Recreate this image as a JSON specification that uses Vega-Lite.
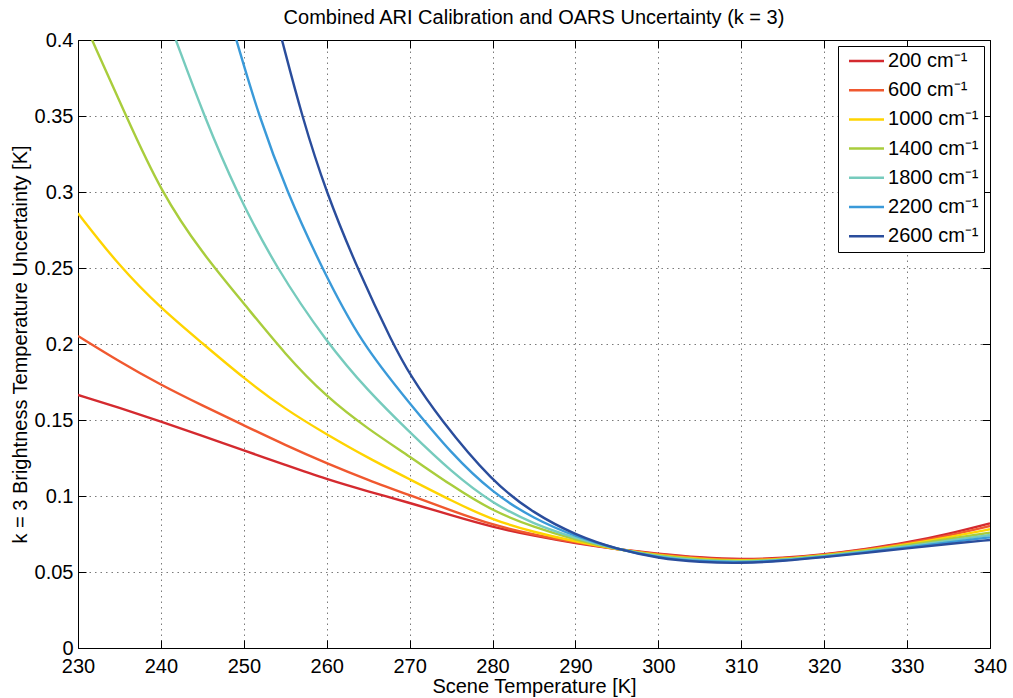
{
  "$schema": "https://vega.github.io/schema/vega-lite/v6.json",
  "width": 912,
  "height": 608,
  "autosize": {"type": "none"},
  "padding": {"left": 78, "top": 40, "right": 23, "bottom": 50},
  "background": "white",
  "config": {
    "font": "Liberation Sans",
    "view": {"stroke": null},
    "axis": {
      "domainColor": "black",
      "domainWidth": 1,
      "tickColor": "black",
      "tickWidth": 1,
      "tickSize": -8,
      "labelFont": "Liberation Sans",
      "labelFontSize": 20,
      "labelColor": "black",
      "labelFlush": false,
      "labelOverlap": false,
      "titleFont": "Liberation Sans",
      "titleFontSize": 20,
      "titleFontWeight": "normal",
      "titleColor": "black",
      "gridColor": "#7a7a7a",
      "gridDash": [1.5, 4],
      "gridWidth": 1,
      "gridOpacity": 1
    }
  },
  "title": {
    "text": "Combined ARI Calibration and OARS Uncertainty (k = 3)",
    "font": "Liberation Sans",
    "fontSize": 20,
    "fontWeight": "normal",
    "color": "black",
    "anchor": "middle",
    "frame": "group",
    "offset": 2
  },
  "data": {
    "values": [
      {"band": "200 cm⁻¹", "T": 230, "v": 0.1665}, {"band": "200 cm⁻¹", "T": 235, "v": 0.158}, {"band": "200 cm⁻¹", "T": 240, "v": 0.149}, {"band": "200 cm⁻¹", "T": 245, "v": 0.1395}, {"band": "200 cm⁻¹", "T": 250, "v": 0.130}, {"band": "200 cm⁻¹", "T": 255, "v": 0.1205}, {"band": "200 cm⁻¹", "T": 260, "v": 0.111}, {"band": "200 cm⁻¹", "T": 265, "v": 0.103}, {"band": "200 cm⁻¹", "T": 270, "v": 0.0955}, {"band": "200 cm⁻¹", "T": 275, "v": 0.0873}, {"band": "200 cm⁻¹", "T": 280, "v": 0.0795}, {"band": "200 cm⁻¹", "T": 285, "v": 0.0738}, {"band": "200 cm⁻¹", "T": 290, "v": 0.0689}, {"band": "200 cm⁻¹", "T": 295, "v": 0.0650}, {"band": "200 cm⁻¹", "T": 300, "v": 0.0620}, {"band": "200 cm⁻¹", "T": 305, "v": 0.0595}, {"band": "200 cm⁻¹", "T": 310, "v": 0.0581}, {"band": "200 cm⁻¹", "T": 315, "v": 0.0592}, {"band": "200 cm⁻¹", "T": 320, "v": 0.0616}, {"band": "200 cm⁻¹", "T": 325, "v": 0.0651}, {"band": "200 cm⁻¹", "T": 330, "v": 0.0693}, {"band": "200 cm⁻¹", "T": 335, "v": 0.0750}, {"band": "200 cm⁻¹", "T": 340, "v": 0.0820},

      {"band": "600 cm⁻¹", "T": 230, "v": 0.2053}, {"band": "600 cm⁻¹", "T": 235, "v": 0.1884}, {"band": "600 cm⁻¹", "T": 240, "v": 0.1730}, {"band": "600 cm⁻¹", "T": 245, "v": 0.1595}, {"band": "600 cm⁻¹", "T": 250, "v": 0.1465}, {"band": "600 cm⁻¹", "T": 255, "v": 0.1335}, {"band": "600 cm⁻¹", "T": 260, "v": 0.1215}, {"band": "600 cm⁻¹", "T": 265, "v": 0.1105}, {"band": "600 cm⁻¹", "T": 270, "v": 0.1005}, {"band": "600 cm⁻¹", "T": 275, "v": 0.0905}, {"band": "600 cm⁻¹", "T": 280, "v": 0.0809}, {"band": "600 cm⁻¹", "T": 285, "v": 0.0745}, {"band": "600 cm⁻¹", "T": 290, "v": 0.0693}, {"band": "600 cm⁻¹", "T": 295, "v": 0.0650}, {"band": "600 cm⁻¹", "T": 300, "v": 0.0615}, {"band": "600 cm⁻¹", "T": 305, "v": 0.0590}, {"band": "600 cm⁻¹", "T": 310, "v": 0.0577}, {"band": "600 cm⁻¹", "T": 315, "v": 0.0589}, {"band": "600 cm⁻¹", "T": 320, "v": 0.0613}, {"band": "600 cm⁻¹", "T": 325, "v": 0.0647}, {"band": "600 cm⁻¹", "T": 330, "v": 0.0687}, {"band": "600 cm⁻¹", "T": 335, "v": 0.0739}, {"band": "600 cm⁻¹", "T": 340, "v": 0.0803},

      {"band": "1000 cm⁻¹", "T": 230, "v": 0.286}, {"band": "1000 cm⁻¹", "T": 235, "v": 0.251}, {"band": "1000 cm⁻¹", "T": 240, "v": 0.2235}, {"band": "1000 cm⁻¹", "T": 245, "v": 0.2005}, {"band": "1000 cm⁻¹", "T": 250, "v": 0.1774}, {"band": "1000 cm⁻¹", "T": 255, "v": 0.1570}, {"band": "1000 cm⁻¹", "T": 260, "v": 0.1405}, {"band": "1000 cm⁻¹", "T": 265, "v": 0.1250}, {"band": "1000 cm⁻¹", "T": 270, "v": 0.1110}, {"band": "1000 cm⁻¹", "T": 275, "v": 0.0970}, {"band": "1000 cm⁻¹", "T": 280, "v": 0.0842}, {"band": "1000 cm⁻¹", "T": 285, "v": 0.0762}, {"band": "1000 cm⁻¹", "T": 290, "v": 0.0700}, {"band": "1000 cm⁻¹", "T": 295, "v": 0.0650}, {"band": "1000 cm⁻¹", "T": 300, "v": 0.0610}, {"band": "1000 cm⁻¹", "T": 305, "v": 0.0585}, {"band": "1000 cm⁻¹", "T": 310, "v": 0.0573}, {"band": "1000 cm⁻¹", "T": 315, "v": 0.0585}, {"band": "1000 cm⁻¹", "T": 320, "v": 0.0610}, {"band": "1000 cm⁻¹", "T": 325, "v": 0.0643}, {"band": "1000 cm⁻¹", "T": 330, "v": 0.0681}, {"band": "1000 cm⁻¹", "T": 335, "v": 0.0728}, {"band": "1000 cm⁻¹", "T": 340, "v": 0.0781},

      {"band": "1400 cm⁻¹", "T": 231.7, "v": 0.400}, {"band": "1400 cm⁻¹", "T": 235.8, "v": 0.350}, {"band": "1400 cm⁻¹", "T": 240, "v": 0.300}, {"band": "1400 cm⁻¹", "T": 245, "v": 0.2595}, {"band": "1400 cm⁻¹", "T": 250, "v": 0.2268}, {"band": "1400 cm⁻¹", "T": 255, "v": 0.1930}, {"band": "1400 cm⁻¹", "T": 260, "v": 0.1650}, {"band": "1400 cm⁻¹", "T": 265, "v": 0.1440}, {"band": "1400 cm⁻¹", "T": 270, "v": 0.1260}, {"band": "1400 cm⁻¹", "T": 275, "v": 0.1070}, {"band": "1400 cm⁻¹", "T": 280, "v": 0.0900}, {"band": "1400 cm⁻¹", "T": 285, "v": 0.0795}, {"band": "1400 cm⁻¹", "T": 290, "v": 0.0712}, {"band": "1400 cm⁻¹", "T": 295, "v": 0.0650}, {"band": "1400 cm⁻¹", "T": 300, "v": 0.0605}, {"band": "1400 cm⁻¹", "T": 305, "v": 0.0580}, {"band": "1400 cm⁻¹", "T": 310, "v": 0.0569}, {"band": "1400 cm⁻¹", "T": 315, "v": 0.0582}, {"band": "1400 cm⁻¹", "T": 320, "v": 0.0607}, {"band": "1400 cm⁻¹", "T": 325, "v": 0.0639}, {"band": "1400 cm⁻¹", "T": 330, "v": 0.0675}, {"band": "1400 cm⁻¹", "T": 335, "v": 0.0717}, {"band": "1400 cm⁻¹", "T": 340, "v": 0.0759},

      {"band": "1800 cm⁻¹", "T": 241.8, "v": 0.400}, {"band": "1800 cm⁻¹", "T": 245.2, "v": 0.350}, {"band": "1800 cm⁻¹", "T": 249.1, "v": 0.300}, {"band": "1800 cm⁻¹", "T": 253.9, "v": 0.250}, {"band": "1800 cm⁻¹", "T": 260, "v": 0.2010}, {"band": "1800 cm⁻¹", "T": 265, "v": 0.1690}, {"band": "1800 cm⁻¹", "T": 270, "v": 0.1420}, {"band": "1800 cm⁻¹", "T": 275, "v": 0.1160}, {"band": "1800 cm⁻¹", "T": 280, "v": 0.0950}, {"band": "1800 cm⁻¹", "T": 285, "v": 0.0815}, {"band": "1800 cm⁻¹", "T": 290, "v": 0.0722}, {"band": "1800 cm⁻¹", "T": 295, "v": 0.0650}, {"band": "1800 cm⁻¹", "T": 300, "v": 0.0600}, {"band": "1800 cm⁻¹", "T": 305, "v": 0.0574}, {"band": "1800 cm⁻¹", "T": 310, "v": 0.0565}, {"band": "1800 cm⁻¹", "T": 315, "v": 0.0579}, {"band": "1800 cm⁻¹", "T": 320, "v": 0.0603}, {"band": "1800 cm⁻¹", "T": 325, "v": 0.0634}, {"band": "1800 cm⁻¹", "T": 330, "v": 0.0668}, {"band": "1800 cm⁻¹", "T": 335, "v": 0.0706}, {"band": "1800 cm⁻¹", "T": 340, "v": 0.0743},

      {"band": "2200 cm⁻¹", "T": 249.1, "v": 0.400}, {"band": "2200 cm⁻¹", "T": 251.8, "v": 0.350}, {"band": "2200 cm⁻¹", "T": 255.2, "v": 0.300}, {"band": "2200 cm⁻¹", "T": 259.4, "v": 0.250}, {"band": "2200 cm⁻¹", "T": 264.2, "v": 0.200}, {"band": "2200 cm⁻¹", "T": 270, "v": 0.161}, {"band": "2200 cm⁻¹", "T": 275, "v": 0.128}, {"band": "2200 cm⁻¹", "T": 280, "v": 0.102}, {"band": "2200 cm⁻¹", "T": 285, "v": 0.0850}, {"band": "2200 cm⁻¹", "T": 290, "v": 0.0733}, {"band": "2200 cm⁻¹", "T": 295, "v": 0.0650}, {"band": "2200 cm⁻¹", "T": 300, "v": 0.0595}, {"band": "2200 cm⁻¹", "T": 305, "v": 0.0569}, {"band": "2200 cm⁻¹", "T": 310, "v": 0.0561}, {"band": "2200 cm⁻¹", "T": 315, "v": 0.0575}, {"band": "2200 cm⁻¹", "T": 320, "v": 0.0600}, {"band": "2200 cm⁻¹", "T": 325, "v": 0.0630}, {"band": "2200 cm⁻¹", "T": 330, "v": 0.0662}, {"band": "2200 cm⁻¹", "T": 335, "v": 0.0695}, {"band": "2200 cm⁻¹", "T": 340, "v": 0.0728},

      {"band": "2600 cm⁻¹", "T": 254.6, "v": 0.400}, {"band": "2600 cm⁻¹", "T": 257.0, "v": 0.350}, {"band": "2600 cm⁻¹", "T": 259.9, "v": 0.300}, {"band": "2600 cm⁻¹", "T": 263.9, "v": 0.247}, {"band": "2600 cm⁻¹", "T": 268, "v": 0.200}, {"band": "2600 cm⁻¹", "T": 270, "v": 0.180}, {"band": "2600 cm⁻¹", "T": 273.6, "v": 0.151}, {"band": "2600 cm⁻¹", "T": 280, "v": 0.109}, {"band": "2600 cm⁻¹", "T": 285, "v": 0.0885}, {"band": "2600 cm⁻¹", "T": 290, "v": 0.0743}, {"band": "2600 cm⁻¹", "T": 295, "v": 0.0650}, {"band": "2600 cm⁻¹", "T": 300, "v": 0.0590}, {"band": "2600 cm⁻¹", "T": 305, "v": 0.0564}, {"band": "2600 cm⁻¹", "T": 310, "v": 0.0557}, {"band": "2600 cm⁻¹", "T": 315, "v": 0.0572}, {"band": "2600 cm⁻¹", "T": 320, "v": 0.0597}, {"band": "2600 cm⁻¹", "T": 325, "v": 0.0626}, {"band": "2600 cm⁻¹", "T": 330, "v": 0.0656}, {"band": "2600 cm⁻¹", "T": 335, "v": 0.0684}, {"band": "2600 cm⁻¹", "T": 340, "v": 0.0711}
    ]
  },
  "layer": [
    {
      "mark": {"type": "line", "interpolate": "basis", "strokeWidth": 2.4, "clip": true},
      "encoding": {
        "x": {
          "field": "T", "type": "quantitative",
          "scale": {"domain": [230, 340], "nice": false, "zero": false},
          "axis": {
            "orient": "bottom",
            "values": [230, 240, 250, 260, 270, 280, 290, 300, 310, 320, 330, 340],
            "format": "d",
            "grid": true,
            "labelPadding": 16,
            "title": "Scene Temperature [K]",
            "titlePadding": 0
          }
        },
        "y": {
          "field": "v", "type": "quantitative",
          "scale": {"domain": [0, 0.4], "nice": false, "zero": false},
          "axis": {
            "orient": "left",
            "values": [0, 0.05, 0.1, 0.15, 0.2, 0.25, 0.3, 0.35, 0.4],
            "format": "~g",
            "grid": true,
            "labelPadding": 13,
            "title": "k = 3 Brightness Temperature Uncertainty [K]",
            "titlePadding": 4
          }
        },
        "color": {
          "field": "band", "type": "nominal",
          "scale": {
            "domain": ["200 cm⁻¹", "600 cm⁻¹", "1000 cm⁻¹", "1400 cm⁻¹", "1800 cm⁻¹", "2200 cm⁻¹", "2600 cm⁻¹"],
            "range": ["#d42a2f", "#f0582f", "#ffd400", "#a9cd3c", "#76cbbd", "#3a9ad9", "#2a4d9c"]
          },
          "legend": {
            "title": null,
            "orient": "top-right",
            "offset": 6,
            "strokeColor": "black",
            "fillColor": "white",
            "padding": 5,
            "labelFont": "Liberation Sans",
            "labelFontSize": 20,
            "labelColor": "black",
            "symbolType": "M-3,0H3",
            "symbolSize": 136,
            "symbolStrokeWidth": 2.5,
            "symbolOffset": 13.5,
            "labelOffset": 11.6,
            "rowPadding": 9.2
          }
        }
      }
    },
    {
      "mark": {"type": "line", "opacity": 0},
      "encoding": {
        "x": {
          "field": "T", "type": "quantitative",
          "scale": {"domain": [230, 340], "nice": false, "zero": false},
          "axis": {
            "orient": "top",
            "values": [230, 240, 250, 260, 270, 280, 290, 300, 310, 320, 330, 340],
            "labels": false, "grid": false, "title": null
          }
        },
        "y": {
          "field": "v", "type": "quantitative",
          "scale": {"domain": [0, 0.4], "nice": false, "zero": false},
          "axis": {
            "orient": "right",
            "values": [0, 0.05, 0.1, 0.15, 0.2, 0.25, 0.3, 0.35, 0.4],
            "labels": false, "grid": false, "title": null
          }
        }
      }
    }
  ],
  "resolve": {"axis": {"x": "independent", "y": "independent"}}
}
